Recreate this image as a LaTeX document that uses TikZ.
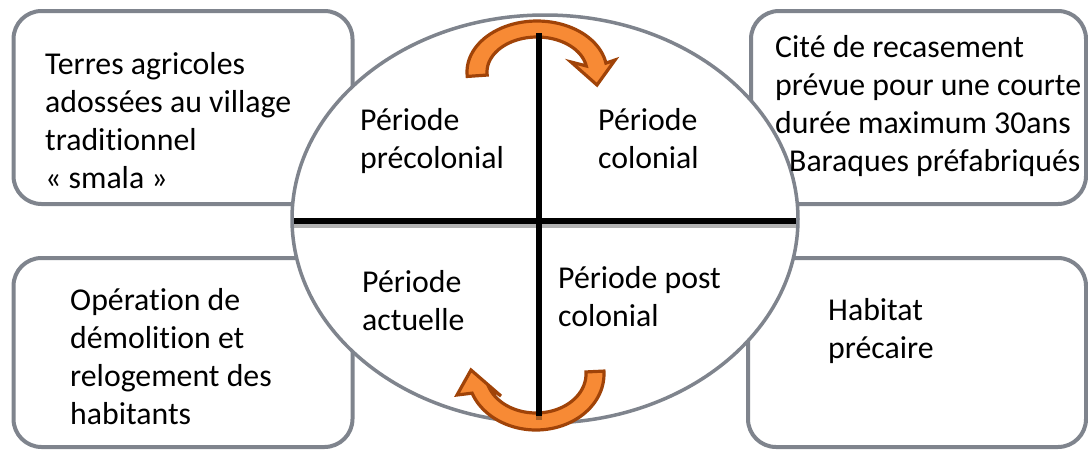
\documentclass[tikz,border=0pt]{standalone}
\usepackage{fontspec}
\setmainfont{Carlito}[Ligatures=NoCommon]
\usetikzlibrary{shapes.geometric}
\definecolor{boxgray}{HTML}{7F848D}
\definecolor{arrowfill}{HTML}{F78A35}
\definecolor{arrowedge}{HTML}{A04308}
\begin{document}
\begin{tikzpicture}[x=1pt,y=-1pt,
  panel/.style={draw=boxgray, line width=4pt, fill=white, rounded corners=28pt, inner sep=0pt},
  oval/.style={ellipse, draw=boxgray, line width=3.5pt, fill=white, inner sep=0pt},
  lbl/.style={anchor=north west, inner sep=0pt, align=left, font=\fontsize{31.8}{38}\selectfont},
  cyclearrow/.style={fill=arrowfill, draw=arrowedge, line width=3.2pt, line join=miter},
  axisline/.style={draw=black, line width=6pt},
  axisshadow/.style={draw=black, opacity=0.3, line width=6pt}]
\useasboundingbox (0,0) rectangle (1088,450);
% boxes
\node[panel, minimum width=339pt, minimum height=193pt] (tl) at (183,107.5) {};
\node[panel, minimum width=335pt, minimum height=193pt] (tr) at (918.5,107.5) {};
\node[panel, minimum width=339pt, minimum height=189pt] (bl) at (183,352.5) {};
\node[panel, minimum width=338pt, minimum height=189pt] (br) at (917,352.5) {};
% central ellipse
\node[oval, minimum width=506pt, minimum height=408pt] (ov) at (545,219) {};
% cycle arrows
\draw[cyclearrow] plot[domain=175:350, samples=50] ({537+70*cos(\x)},{72+51*sin(\x)})
  -- (615,60) -- (597,85) -- (571,62)
  -- plot[domain=350:175, samples=50] ({537+50*cos(\x)},{72+35*sin(\x)}) -- cycle;
\draw[cyclearrow] plot[domain=-3:160, samples=50] ({536+68*cos(\x)},{374+56*sin(\x)})
  -- (457,395) -- (471,370) -- (501,396)
  -- plot[domain=160:-3, samples=50] ({536+50*cos(\x)},{374+39*sin(\x)}) -- cycle;
% axes
\coordinate (hl) at (294,220.5);
\coordinate (hr) at (796,220.5);
\coordinate (vt) at (539,33);
\coordinate (vb) at (539,416);
\draw[axisshadow] ([yshift=-4pt]hl) -- ([yshift=-4pt]hr);
\draw[axisshadow] ([yshift=-4pt]vt) -- ([yshift=-4pt]vb);
\draw[axisline] (hl) -- (hr);
\draw[axisline] (vt) -- (vb);
% texts
\node[lbl] (ttl) at (45,47.4) {\strut Terres agricoles\\adossées au village\\traditionnel\\« smala »};
\node[lbl] (ttr) at (775,30.4) {\strut Cité de recasement\\prévue pour une courte\\durée maximum 30ans\\\hspace*{14pt}Baraques préfabriqués};
\node[lbl] (tbl) at (70,283.4) {\strut Opération de\\démolition et\\relogement des\\habitants};
\node[lbl] (tbr) at (828,293.4) {\strut Habitat\\précaire};
\node[lbl] (p1) at (360,103.4) {\strut Période\\précolonial};
\node[lbl] (p2) at (598,103.4) {\strut Période\\colonial};
\node[lbl] (p3) at (362,265.4) {\strut Période\\actuelle};
\node[lbl] (p4) at (558,261.4) {\strut Période post\\colonial};
\end{tikzpicture}
\end{document}
